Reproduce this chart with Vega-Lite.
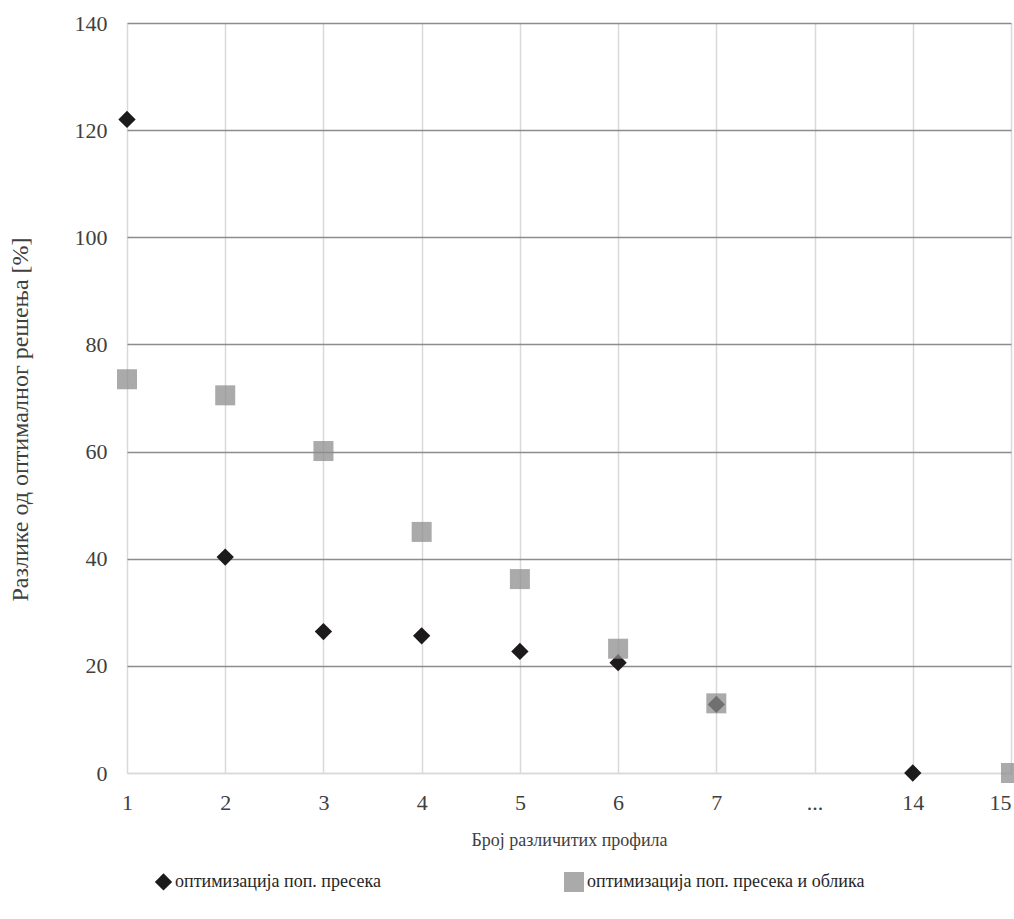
{
  "$schema": "https://vega.github.io/schema/vega-lite/v6.json",
  "width": 884,
  "height": 750,
  "autosize": "none",
  "padding": {"left": 127, "top": 23, "right": 3, "bottom": 146},
  "background": "white",
  "config": {
    "font": "Liberation Serif, Times New Roman, serif",
    "view": {"stroke": null},
    "axis": {"labelFont": "Liberation Serif, Times New Roman, serif", "titleFont": "Liberation Serif, Times New Roman, serif", "labelColor": "#404040", "titleColor": "#404040", "titleFontWeight": "normal", "ticks": false},
    "legend": {"labelFont": "Liberation Serif, Times New Roman, serif"}
  },
  "data": {
    "values": [
      {"x": "1", "s": "оптимизација поп. пресека", "v": 122},
      {"x": "2", "s": "оптимизација поп. пресека", "v": 40.3},
      {"x": "3", "s": "оптимизација поп. пресека", "v": 26.4},
      {"x": "4", "s": "оптимизација поп. пресека", "v": 25.6},
      {"x": "5", "s": "оптимизација поп. пресека", "v": 22.7},
      {"x": "6", "s": "оптимизација поп. пресека", "v": 20.6},
      {"x": "7", "s": "оптимизација поп. пресека", "v": 12.8},
      {"x": "14", "s": "оптимизација поп. пресека", "v": 0},
      {"x": "1", "s": "оптимизација поп. пресека и облика", "v": 73.5},
      {"x": "2", "s": "оптимизација поп. пресека и облика", "v": 70.5},
      {"x": "3", "s": "оптимизација поп. пресека и облика", "v": 60.1},
      {"x": "4", "s": "оптимизација поп. пресека и облика", "v": 45},
      {"x": "5", "s": "оптимизација поп. пресека и облика", "v": 36.2},
      {"x": "6", "s": "оптимизација поп. пресека и облика", "v": 23.2},
      {"x": "7", "s": "оптимизација поп. пресека и облика", "v": 13},
      {"x": "15", "s": "оптимизација поп. пресека и облика", "v": 0}
    ]
  },
  "mark": {"type": "point", "filled": true, "strokeWidth": 1.5, "clip": false, "opacity": 1},
  "encoding": {
    "x": {
      "field": "x", "type": "nominal",
      "scale": {"type": "point", "domain": ["1", "2", "3", "4", "5", "6", "7", "...", "14", "15"], "padding": 0},
      "axis": {"labelAngle": 0, "labelFontSize": 22, "labelPadding": 19,
        "labelAlign": {"condition": {"test": "datum.value === '15'", "value": "right"}, "value": "center"},
        "grid": true, "gridColor": "#d9d9d9", "gridWidth": 1.5, "domain": true, "domainColor": "#d9d9d9", "domainWidth": 1.5, "title": "Број различитих профила", "titleFontSize": 18, "titlePadding": 18}
    },
    "y": {
      "field": "v", "type": "quantitative",
      "scale": {"domain": [0, 140], "nice": false},
      "axis": {"values": [0, 20, 40, 60, 80, 100, 120, 140], "labelFontSize": 22, "labelPadding": 20, "domain": false, "grid": true,
        "gridColor": {"condition": {"test": "datum.value === 0", "value": "#d9d9d9"}, "value": "#8c8c8c"},
        "gridWidth": 1.5, "title": "Разлике од оптималног решења [%]", "titleFontSize": 24, "titlePadding": 42, "titleY": 396}
    },
    "color": {
      "field": "s", "type": "nominal",
      "scale": {"domain": ["оптимизација поп. пресека", "оптимизација поп. пресека и облика"], "range": ["#1c1a1a", "#8e8e8e"]},
      "legend": {"orient": "none", "legendX": 27, "legendY": 848, "direction": "horizontal", "title": null, "labelFontSize": 18, "labelColor": "#262626", "labelLimit": 500, "symbolSize": 200, "symbolOpacity": 1, "columnPadding": 179, "labelOffset": 2}
    },
    "shape": {
      "field": "s", "type": "nominal",
      "scale": {"domain": ["оптимизација поп. пресека", "оптимизација поп. пресека и облика"], "range": ["diamond", "square"]}
    },
    "size": {
      "field": "s", "type": "ordinal",
      "scale": {"domain": ["оптимизација поп. пресека", "оптимизација поп. пресека и облика"], "range": [300, 400]},
      "legend": null
    },
    "opacity": {
      "field": "s", "type": "ordinal",
      "scale": {"domain": ["оптимизација поп. пресека", "оптимизација поп. пресека и облика"], "range": [1, 0.75]},
      "legend": null
    }
  }
}
